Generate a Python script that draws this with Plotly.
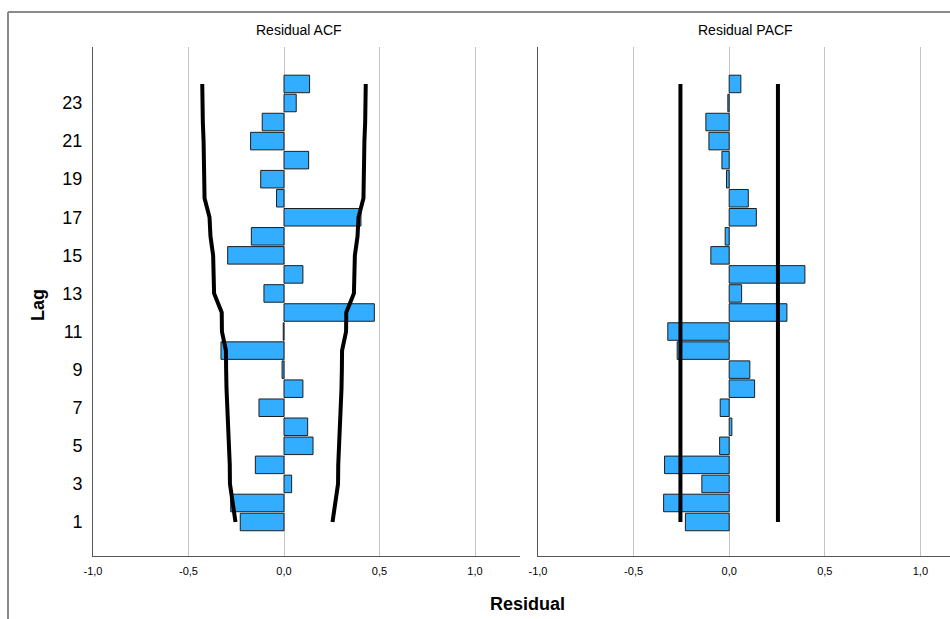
import plotly.graph_objects as go

lags = list(range(1, 25))
acf = [-0.229, -0.279, 0.040, -0.150, 0.152, 0.124, -0.131, 0.099, -0.010, -0.330,
       -0.004, 0.473, -0.105, 0.099, -0.295, -0.171, 0.403, -0.039, -0.122, 0.129,
       -0.175, -0.114, 0.064, 0.134]
acf_upper = [0.254, 0.266, 0.283, 0.284, 0.289, 0.294, 0.298, 0.301, 0.303, 0.304,
             0.325, 0.326, 0.366, 0.369, 0.371, 0.385, 0.390, 0.416, 0.416, 0.418,
             0.421, 0.425, 0.427, 0.428]
acf_lower = [-v for v in acf_upper]
pacf = [-0.229, -0.343, -0.143, -0.338, -0.050, 0.014, -0.047, 0.133, 0.108, -0.272,
        -0.321, 0.302, 0.065, 0.396, -0.096, -0.021, 0.142, 0.100, -0.014, -0.038,
        -0.106, -0.122, -0.007, 0.061]
pacf_upper = [0.255] * 24
pacf_lower = [-0.255] * 24

x_tickvals = [-1.0, -0.5, 0.0, 0.5, 1.0]
x_ticktext = ["-1,0", "-0,5", "0,0", "0,5", "1,0"]
y_tickvals = [1, 3, 5, 7, 9, 11, 13, 15, 17, 19, 21, 23]

BAR = "#33adff"
EDGE = "rgb(30,30,30)"

fig = go.Figure()
fig.add_trace(go.Bar(x=acf, y=lags, orientation="h", width=0.92,
                     marker=dict(color=BAR, line=dict(color=EDGE, width=1)),
                     xaxis="x", yaxis="y", showlegend=False))
fig.add_trace(go.Scatter(x=acf_upper, y=lags, mode="lines",
                         line=dict(color="black", width=4), xaxis="x", yaxis="y", showlegend=False))
fig.add_trace(go.Scatter(x=acf_lower, y=lags, mode="lines",
                         line=dict(color="black", width=4), xaxis="x", yaxis="y", showlegend=False))
fig.add_trace(go.Bar(x=pacf, y=lags, orientation="h", width=0.92,
                     marker=dict(color=BAR, line=dict(color=EDGE, width=1)),
                     xaxis="x2", yaxis="y2", showlegend=False))
fig.add_trace(go.Scatter(x=pacf_upper, y=lags, mode="lines",
                         line=dict(color="black", width=4), xaxis="x2", yaxis="y2", showlegend=False))
fig.add_trace(go.Scatter(x=pacf_lower, y=lags, mode="lines",
                         line=dict(color="black", width=4), xaxis="x2", yaxis="y2", showlegend=False))

W, H = 950, 619
ml, mr, mt, mb = 93, 0, 47, 63
pw = W - ml - mr
ph = H - mt - mb
d1_end = (520 - ml) / pw
d2_start = (538 - ml) / pw


def px_x(x):
    return (x - ml) / pw


def px_y(y):
    return (H - mb - y) / ph


xcommon = dict(tickvals=x_tickvals, ticktext=x_ticktext, showgrid=True,
               gridcolor="#c4c4c4", gridwidth=1, zeroline=False, showline=True,
               linecolor="#555555", linewidth=1, ticks="", ticklabelstandoff=5,
               tickfont=dict(family="Liberation Sans, Arial", size=11, color="black"))
fig.update_layout(
    width=W, height=H, margin=dict(l=ml, r=mr, t=mt, b=mb),
    paper_bgcolor="white", plot_bgcolor="white", barmode="overlay",
    xaxis=dict(domain=[0, d1_end], range=[-1.0, 1.2356], anchor="y", **xcommon),
    xaxis2=dict(domain=[d2_start, 1], range=[-1.0, 1.155], anchor="y2", **xcommon),
    yaxis=dict(domain=[0, 1], range=[-0.785, 25.94], tickvals=y_tickvals,
               showgrid=False, zeroline=False, showline=True, linecolor="#555555",
               linewidth=1, ticks="", ticklabelstandoff=6,
               tickfont=dict(family="Liberation Sans, Arial", size=18, color="black"),
               anchor="x"),
    yaxis2=dict(domain=[0, 1], range=[-0.785, 25.94], showticklabels=False,
                showgrid=False, zeroline=False, showline=True, linecolor="#555555",
                linewidth=1, ticks="", anchor="x2"),
    font=dict(family="Liberation Sans, Arial", color="black"),
)

annotations = [
    dict(text="Residual ACF", xref="paper", yref="paper",
         x=px_x(299), y=px_y(30),
         showarrow=False, font=dict(size=14), xanchor="center", yanchor="middle"),
    dict(text="Residual PACF", xref="paper", yref="paper",
         x=px_x(745), y=px_y(30),
         showarrow=False, font=dict(size=14), xanchor="center", yanchor="middle"),
    dict(text="<b>Residual</b>", xref="paper", yref="paper",
         x=px_x(527), y=px_y(604),
         showarrow=False, font=dict(size=18), xanchor="center", yanchor="middle"),
    dict(text="<b>Lag</b>", xref="paper", yref="paper", textangle=-90,
         x=px_x(38), y=px_y(305),
         showarrow=False, font=dict(size=18), xanchor="center", yanchor="middle"),
]
fig.update_layout(annotations=annotations)

# outer frame (top and left edges visible in the crop)
fig.add_shape(type="line", xref="paper", yref="paper",
              x0=px_x(8), x1=px_x(W + 5), y0=px_y(12), y1=px_y(12),
              line=dict(color="#8a8a8a", width=2))
fig.add_shape(type="line", xref="paper", yref="paper",
              x0=px_x(8), x1=px_x(8), y0=px_y(12), y1=px_y(H + 5),
              line=dict(color="#8a8a8a", width=2))

fig.write_html("out.html", config={"displayModeBar": False},
               post_script="document.body.style.margin='0';document.body.style.overflow='hidden';")
